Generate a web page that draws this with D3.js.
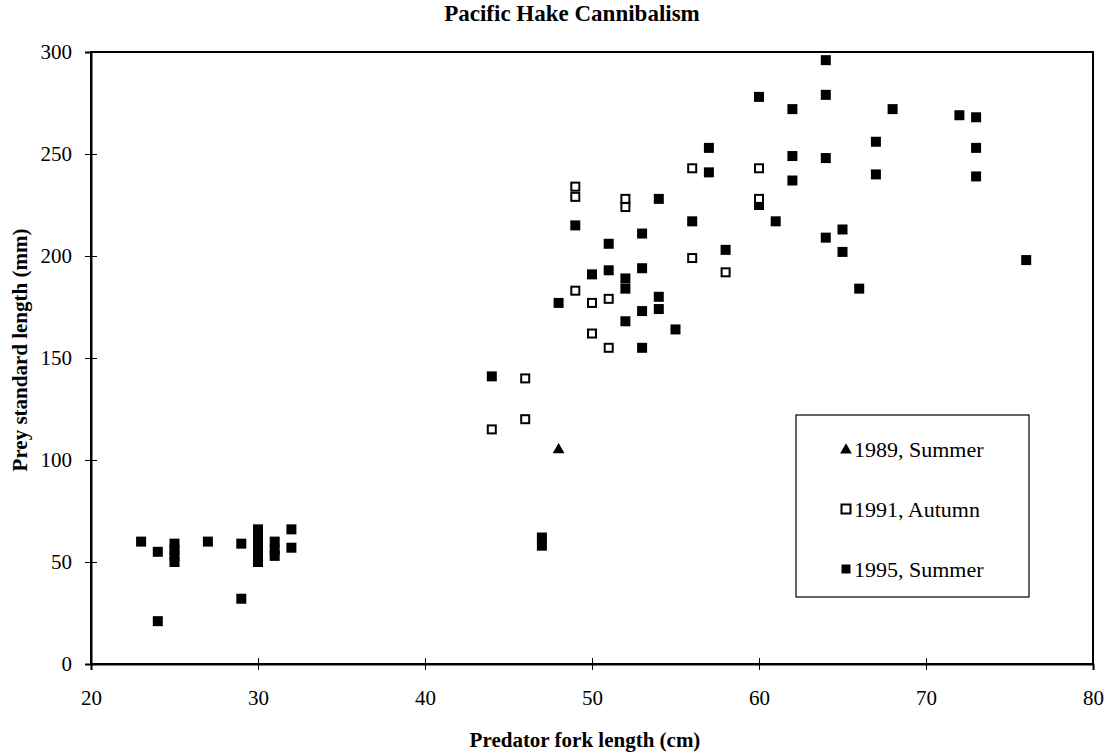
<!DOCTYPE html>
<html>
<head>
<meta charset="utf-8">
<script src="https://cdn.jsdelivr.net/npm/d3@7"></script>
<style>
  body { margin: 0; background: #fff; }
  svg { display: block; font-family: "Liberation Serif", "Times New Roman", serif; }
</style>
</head>
<body>
<div id="chart"></div>
<script>
// ---- data ----
const xTicks = [20, 30, 40, 50, 60, 70, 80];
const yTicks = [0, 50, 100, 150, 200, 250, 300];
const seriesNames = ["1989, Summer", "1991, Autumn", "1995, Summer"];

const s1989x = [48];
const s1989y = [105];

const s1991x = [44, 46, 46, 49, 49, 49, 50, 50, 51, 51, 52, 52, 56, 56, 58, 60, 60];
const s1991y = [115, 140, 120, 234, 229, 183, 177, 162, 179, 155, 228, 224, 243, 199, 192, 243, 228];

const s1995x = [23, 24, 24, 25, 25, 25, 25, 27, 29, 29, 30, 30, 30, 30, 30, 31, 31, 31, 32, 32,
  44, 47, 47, 48, 49, 50, 51, 51, 52, 52, 52, 53, 53, 53, 53, 54, 54, 54, 55,
  56, 57, 57, 58, 60, 60, 61, 62, 62, 62, 64, 64, 64, 64, 65, 65, 66, 67, 67, 68, 72, 73, 73, 73, 76];
const s1995y = [60, 55, 21, 59, 56, 53, 50, 60, 59, 32, 66, 62, 58, 54, 50, 60, 56, 53, 66, 57,
  141, 62, 58, 177, 215, 191, 206, 193, 189, 184, 168, 211, 194, 173, 155, 228, 180, 174, 164,
  217, 253, 241, 203, 278, 225, 217, 272, 249, 237, 296, 279, 248, 209, 213, 202, 184, 256, 240, 272, 269, 268, 253, 239, 198];

// ---- layout ----
const W = 1109, H = 753;
const mLeft = 91, mRight = 1093, mTop = 52, mBottom = 664;

const svg = d3.select("#chart").append("svg").attr("width", W).attr("height", H);

const x = d3.scaleLinear().domain([20, 80]).range([mLeft, mRight]);
const y = d3.scaleLinear().domain([0, 300]).range([mBottom, mTop]);

// plot frame
svg.append("rect")
  .attr("x", mLeft).attr("y", mTop)
  .attr("width", mRight - mLeft).attr("height", mBottom - mTop)
  .attr("fill", "none").attr("stroke", "#000").attr("stroke-width", 2);

// axes
const tickLen = 6;
const yAxis = svg.append("g").attr("transform", `translate(${mLeft},0)`)
  .call(d3.axisLeft(y).tickValues(yTicks).tickSize(tickLen).tickPadding(13).tickFormat(d3.format("d")));
const xAxis = svg.append("g").attr("transform", `translate(0,${mBottom})`)
  .call(d3.axisBottom(x).tickValues(xTicks).tickSize(tickLen).tickPadding(20).tickFormat(d3.format("d")));

[yAxis, xAxis].forEach(g => {
  g.select(".domain").attr("stroke", "#000").attr("stroke-width", 2);
  g.selectAll(".tick line").attr("stroke", "#000").attr("stroke-width", 1);
  g.selectAll(".tick text").attr("fill", "#000")
    .style("font-family", "'Liberation Serif', 'Times New Roman', serif")
    .style("font-size", "21px");
});
// cross tick marks
yAxis.selectAll(".tick line").attr("x1", tickLen);
xAxis.selectAll(".tick line").attr("y1", -tickLen);

// titles
svg.append("text")
  .attr("x", 572).attr("y", 21)
  .attr("text-anchor", "middle")
  .style("font-weight", "bold").style("font-size", "23px")
  .text("Pacific Hake Cannibalism");

svg.append("text")
  .attr("x", 585).attr("y", 747)
  .attr("text-anchor", "middle")
  .style("font-weight", "bold").style("font-size", "21px")
  .text("Predator fork length (cm)");

svg.append("text")
  .attr("transform", `translate(27,350) rotate(-90)`)
  .attr("text-anchor", "middle")
  .style("font-weight", "bold").style("font-size", "21px")
  .text("Prey standard length (mm)");

// markers
const S = 10;
const pts1995 = s1995x.map((d, i) => ({ x: d, y: s1995y[i] }));
const pts1991 = s1991x.map((d, i) => ({ x: d, y: s1991y[i] }));
const pts1989 = s1989x.map((d, i) => ({ x: d, y: s1989y[i] }));

svg.append("g").selectAll("rect").data(pts1995).join("rect")
  .attr("x", d => x(d.x) - S / 2).attr("y", d => y(d.y) - S / 2)
  .attr("width", S).attr("height", S).attr("fill", "#000");

svg.append("g").selectAll("rect").data(pts1991).join("rect")
  .attr("x", d => x(d.x) - (S - 2) / 2).attr("y", d => y(d.y) - (S - 2) / 2)
  .attr("width", S - 2).attr("height", S - 2)
  .attr("fill", "#fff").attr("stroke", "#000").attr("stroke-width", 2);

const tri = d3.symbol().type(d3.symbolTriangle).size(60);
svg.append("g").selectAll("path").data(pts1989).join("path")
  .attr("transform", d => `translate(${x(d.x)},${y(d.y)})`)
  .attr("d", tri).attr("fill", "#000");

// legend
const lg = svg.append("g");
lg.append("rect").attr("x", 796).attr("y", 415).attr("width", 233).attr("height", 182)
  .attr("fill", "#fff").attr("stroke", "#000").attr("stroke-width", 1.2);
const ly = [449, 509, 569];
const lx = 846;
lg.append("path").attr("transform", `translate(${lx},${ly[0] + 1})`).attr("d", tri).attr("fill", "#000");
lg.append("rect").attr("x", lx - 4.5).attr("y", ly[1] - 4.5).attr("width", 9).attr("height", 9)
  .attr("fill", "#fff").attr("stroke", "#000").attr("stroke-width", 2);
lg.append("rect").attr("x", lx - 4.5).attr("y", ly[2] - 4.5).attr("width", 9).attr("height", 9).attr("fill", "#000");
seriesNames.forEach((n, i) => {
  lg.append("text").attr("x", 854).attr("y", ly[i]).attr("dy", "0.35em")
    .style("font-size", "22px").text(n);
});
</script>
</body>
</html>
